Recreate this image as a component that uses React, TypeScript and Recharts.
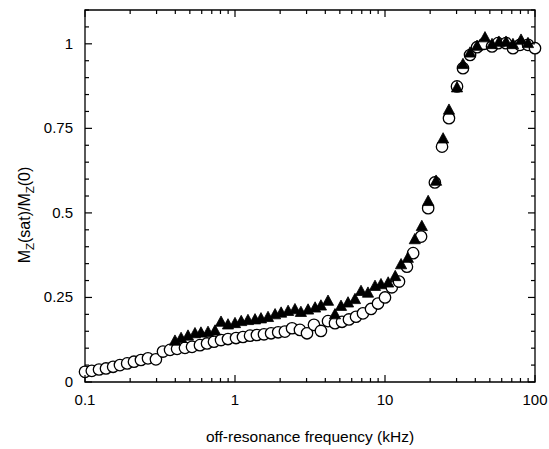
import { ScatterChart, Scatter, XAxis, YAxis, ReferenceArea } from "recharts";

// open circles
const circleFreq = [
  0.1, 0.111, 0.124, 0.138, 0.154, 0.171, 0.191, 0.212, 0.236, 0.263,
  0.297, 0.331, 0.369, 0.411, 0.464, 0.517, 0.584, 0.651, 0.724, 0.807,
  0.898, 1.016, 1.13, 1.26, 1.4, 1.56, 1.74, 1.94, 2.15, 2.4,
  2.71, 3.02, 3.36, 3.74, 4.17, 4.64, 5.17, 5.75, 6.41, 7.13,
  8.07, 8.98, 10.0, 11.1, 12.4, 14.0, 15.4, 17.4, 19.4, 21.5,
  24.0, 26.7, 30.2, 33.1, 36.9, 41.1, 45.7, 51.7, 56.7, 64.1,
  71.3, 79.4, 89.8, 100,
];
const circleSat = [
  0.03, 0.033, 0.037, 0.04, 0.045, 0.05, 0.055, 0.06, 0.065, 0.07,
  0.067, 0.09, 0.095, 0.098, 0.101, 0.104, 0.109, 0.114, 0.119, 0.124,
  0.127, 0.13, 0.133, 0.137, 0.139, 0.141, 0.144, 0.147, 0.149, 0.159,
  0.154, 0.144, 0.169, 0.151, 0.18, 0.174, 0.178, 0.185, 0.193, 0.203,
  0.216, 0.232, 0.25, 0.28, 0.297, 0.341, 0.381, 0.43, 0.514, 0.59,
  0.696, 0.78, 0.874, 0.928, 0.967, 0.99, 1.0, 0.992, 1.002, 1.002,
  0.987, 0.997, 0.997, 0.987,
];

// filled triangles
const triFreq = [
  0.398, 0.437, 0.486, 0.541, 0.593, 0.661, 0.736, 0.807, 0.898, 1.0,
  1.1, 1.22, 1.36, 1.49, 1.66, 1.85, 2.03, 2.26, 2.51, 2.75,
  3.07, 3.42, 3.74, 4.17, 4.64, 5.09, 5.67, 6.31, 6.92, 7.7,
  8.58, 9.4, 10.5, 11.7, 12.8, 14.2, 15.8, 17.6, 19.4, 21.9,
  24.4, 26.7, 30.2, 33.1, 36.9, 41.1, 46.4, 51.7, 57.5, 64.1,
  71.3, 80.7, 89.8,
];
const triSat = [
  0.12, 0.128, 0.135, 0.142, 0.144, 0.146, 0.15, 0.176, 0.168, 0.172,
  0.178, 0.181, 0.183, 0.186, 0.19, 0.198, 0.203, 0.208, 0.213, 0.205,
  0.212, 0.218, 0.224, 0.238, 0.198, 0.223, 0.233, 0.243, 0.267, 0.262,
  0.282, 0.287, 0.292, 0.311, 0.346, 0.365, 0.42, 0.459, 0.533, 0.593,
  0.718, 0.803, 0.869, 0.938, 0.972, 0.992, 1.017, 0.997, 1.004, 1.004,
  0.997, 1.01, 1.0,
];

const xTicks = [
  0.1, 0.2, 0.3, 0.4, 0.5, 0.6, 0.7, 0.8, 0.9,
  1, 2, 3, 4, 5, 6, 7, 8, 9,
  10, 20, 30, 40, 50, 60, 70, 80, 90, 100,
];
const xMajor = [0.1, 1, 10, 100];
const xLabels = ["0.1", "1", "10", "100"];

const yTicks = [
  0, 0.05, 0.1, 0.15, 0.2, 0.25, 0.3, 0.35, 0.4, 0.45, 0.5, 0.55,
  0.6, 0.65, 0.7, 0.75, 0.8, 0.85, 0.9, 0.95, 1, 1.05, 1.1,
];
const yMajor = [0, 0.25, 0.5, 0.75, 1];
const yLabels = ["0", "0.25", "0.5", "0.75", "1"];

const circlePts = circleFreq.map((f, i) => ({ f, m: circleSat[i] }));
const triPts = triFreq.map((f, i) => ({ f, m: triSat[i] }));

// plot box edges (px)
const LEFT = 85;
const RIGHT = 535;
const TOP = 10;
const BOTTOM = 382;
const font = "'Liberation Sans', Arial, Helvetica, sans-serif";

const XTick = (props: any) => {
  const { x, payload } = props;
  const idx = xMajor.indexOf(payload.value);
  const len = idx >= 0 ? 7 : 4;
  return (
    <g>
      <line x1={x} x2={x} y1={BOTTOM} y2={BOTTOM - len} stroke="#000" strokeWidth={1.2} />
      <line x1={x} x2={x} y1={TOP} y2={TOP + len} stroke="#000" strokeWidth={1.2} />
      {idx >= 0 && (
        <text x={x} y={BOTTOM + 23} textAnchor="middle" fontSize={15} fontFamily={font} fill="#000">
          {xLabels[idx]}
        </text>
      )}
    </g>
  );
};

const YTick = (props: any) => {
  const { y, payload } = props;
  const idx = yMajor.indexOf(payload.value);
  const len = idx >= 0 ? 7 : 4;
  return (
    <g>
      <line x1={LEFT} x2={LEFT + len} y1={y} y2={y} stroke="#000" strokeWidth={1.2} />
      <line x1={RIGHT} x2={RIGHT - len} y1={y} y2={y} stroke="#000" strokeWidth={1.2} />
      {idx >= 0 && (
        <text x={LEFT - 12} y={y + 5} textAnchor="end" fontSize={15} fontFamily={font} fill="#000">
          {yLabels[idx]}
        </text>
      )}
    </g>
  );
};

const OpenCircle = (props: any) => (
  <circle cx={props.cx} cy={props.cy} r={5.7} fill="#fff" stroke="#000" strokeWidth={1.3} />
);

const Triangle = (props: any) => {
  const { cx, cy } = props;
  const pts = `${cx},${cy - 6.5} ${cx - 5.6},${cy + 3.8} ${cx + 5.6},${cy + 3.8}`;
  return <polygon points={pts} fill="#000" stroke="#000" strokeWidth={0.8} />;
};

export default function App() {
  return (
    <div style={{ position: "absolute", left: 0, top: 0, width: 549, height: 449, background: "#fff" }}>
      <ScatterChart width={549} height={449} margin={{ top: TOP, right: 549 - RIGHT, bottom: 0, left: 0 }}>
        <XAxis
          dataKey="f"
          type="number"
          scale="log"
          domain={[0.1, 100]}
          ticks={xTicks}
          interval={0}
          height={449 - BOTTOM}
          axisLine={false}
          tickLine={false}
          tickSize={0}
          tickMargin={0}
          tick={<XTick />}
        />
        <YAxis
          dataKey="m"
          type="number"
          domain={[0, 1.1]}
          ticks={yTicks}
          interval={0}
          width={LEFT}
          axisLine={false}
          tickLine={false}
          tickSize={0}
          tickMargin={0}
          tick={<YTick />}
        />
        <ReferenceArea x1={0.1} x2={100} y1={0} y2={1.1} fill="none" stroke="#000" strokeWidth={1.3} ifOverflow="visible" />
        <Scatter data={circlePts} shape={<OpenCircle />} isAnimationActive={false} />
        <Scatter data={triPts} shape={<Triangle />} isAnimationActive={false} />
      </ScatterChart>
      <svg width={549} height={449} style={{ position: "absolute", left: 0, top: 0, pointerEvents: "none" }}>
        <text x={310} y={442} textAnchor="middle" fontSize={15.5} fontFamily={font} fill="#000">
          off-resonance frequency (kHz)
        </text>
        <text transform="translate(30,215) rotate(-90)" textAnchor="middle" fontSize={16} fontFamily={font} fill="#000">
          M<tspan fontSize={11.5} dy={4}>Z</tspan>
          <tspan dy={-4}>(sat)/M</tspan>
          <tspan fontSize={11.5} dy={4}>Z</tspan>
          <tspan dy={-4}>(0)</tspan>
        </text>
      </svg>
    </div>
  );
}
